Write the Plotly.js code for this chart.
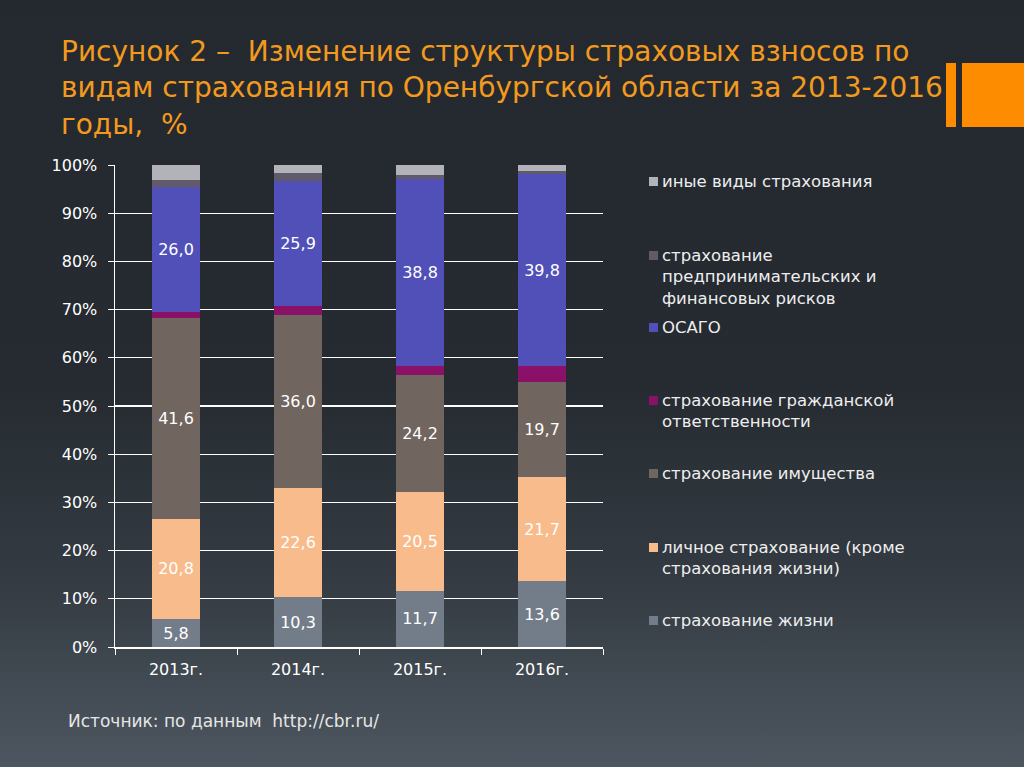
<!DOCTYPE html>
<html><head><meta charset="utf-8">
<script src="https://cdn.plot.ly/plotly-3.0.1.min.js"></script>
<style>
html,body{margin:0;padding:0;width:1024px;height:767px;overflow:hidden;
background:linear-gradient(to bottom,#23292f 0%,#252b31 50%,#333a41 75%,#4d5660 100%);}
#chart{width:1024px;height:767px;}
</style></head><body>
<div id="chart"></div>
<script>
const years = ['2013г.','2014г.','2015г.','2016г.'];
const seriesNames = [
  'страхование жизни',
  'личное страхование (кроме<br>страхования жизни)',
  'страхование имущества',
  'страхование гражданской<br>ответственности',
  'ОСАГО',
  'страхование<br>предпринимательских и<br>финансовых рисков',
  'иные виды страхования'
];
const life       = [5.8, 10.3, 11.7, 13.6];
const personal   = [20.8, 22.6, 20.5, 21.7];
const property   = [41.6, 36.0, 24.2, 19.7];
const liability  = [1.3, 1.8, 1.9, 3.3];
const osago      = [26.0, 25.9, 38.8, 39.8];
const business   = [1.4, 1.7, 0.8, 0.6];
const other      = [3.1, 1.7, 2.1, 1.3];
const seriesValues = [life, personal, property, liability, osago, business, other];
const seriesColors = ['#737d8a','#f8bb8c','#71655f','#8a1068','#5050b8','#605a6b','#b1b3b9'];
const showLabels = [true, true, true, false, true, false, false];

const FONT = 'DejaVu Sans, Liberation Sans, Arial, sans-serif';

// plot area in pixels
const L = 115, R = 603, T = 165, B = 647;
const px2x = p => (p - L) / (R - L);
const py2y = p => (B - p) / (B - T);

const fmt = v => v.toFixed(1).replace('.', ',');

const traces = seriesValues.map((vals, i) => ({
  type: 'bar',
  x: years,
  y: vals,
  name: seriesNames[i],
  marker: {color: seriesColors[i], line: {width: 0}},
  text: showLabels[i] ? vals.map(fmt) : vals.map(() => ''),
  textposition: showLabels[i] ? 'inside' : 'none',
  insidetextanchor: 'middle',
  textfont: {color: '#ffffff', size: 16, family: FONT},
  constraintext: 'none',
  hoverinfo: 'skip',
  showlegend: false
}));

// legend (drawn manually to follow the reference spacing)
const legendOrder = [6, 5, 4, 3, 2, 1, 0];
const legendFirstLineY = [181, 255, 327, 400, 473, 547, 620];
const annotations = [];
const shapes = [];
legendOrder.forEach((si, k) => {
  const yc = legendFirstLineY[k];
  shapes.push({type: 'rect', xref: 'paper', yref: 'paper',
    x0: px2x(649), x1: px2x(658), y0: py2y(yc + 5), y1: py2y(yc - 4),
    fillcolor: seriesColors[si], line: {width: 0}});
  annotations.push({xref: 'paper', yref: 'paper', x: px2x(660), y: py2y(yc - 11),
    xanchor: 'left', yanchor: 'top', align: 'left', showarrow: false,
    text: seriesNames[si],
    font: {color: '#eeeeee', size: 16.5, family: FONT}});
});
// source note
annotations.push({xref: 'paper', yref: 'paper', x: px2x(66), y: py2y(721),
  xanchor: 'left', yanchor: 'middle', showarrow: false,
  text: 'Источник: по данным \u00a0http://cbr.ru/',
  font: {color: '#e6e6e6', size: 17, family: FONT}});
// orange decoration
shapes.push({type: 'rect', xref: 'paper', yref: 'paper',
  x0: px2x(946), x1: px2x(956), y0: py2y(127), y1: py2y(63),
  fillcolor: '#fd8c00', line: {width: 0}});
shapes.push({type: 'rect', xref: 'paper', yref: 'paper',
  x0: px2x(962), x1: px2x(1030), y0: py2y(127), y1: py2y(63),
  fillcolor: '#fd8c00', line: {width: 0}});

const layout = {
  width: 1024, height: 767,
  paper_bgcolor: 'rgba(0,0,0,0)', plot_bgcolor: 'rgba(0,0,0,0)',
  margin: {l: L, r: 1024 - R, t: T, b: 767 - B, pad: 0},
  barmode: 'stack', bargap: 0.6,
  font: {family: FONT, color: '#ffffff', size: 16},
  title: {
    text: 'Рисунок 2 –  Изменение структуры страховых взносов по<br>видам страхования по Оренбургской области за 2013-2016<br>годы,  %',
    x: 61 / 1024, xanchor: 'left', xref: 'container',
    y: 1 - 61 / 767, yanchor: 'top', yref: 'container',
    font: {family: FONT, size: 28, color: '#f39a1e'}
  },
  xaxis: {
    type: 'category', showline: true, linecolor: '#ffffff', linewidth: 1.5,
    ticks: 'outside', tickson: 'boundaries', ticklen: 6, tickcolor: '#ffffff',
    showgrid: false, zeroline: false, ticklabelstandoff: 7,
    tickfont: {size: 16, color: '#ffffff', family: FONT}, fixedrange: true
  },
  yaxis: {
    range: [0, 100], tickvals: [0,10,20,30,40,50,60,70,80,90,100],
    ticktext: ['0%','10%','20%','30%','40%','50%','60%','70%','80%','90%','100%'],
    showline: true, linecolor: '#ffffff', linewidth: 1.5,
    ticks: 'outside', ticklen: 6, tickcolor: '#ffffff',
    showgrid: true, gridcolor: '#ffffff', gridwidth: 1.3, zeroline: false,
    ticklabelstandoff: 7,
    tickfont: {size: 16, color: '#ffffff', family: FONT}, fixedrange: true
  },
  annotations: annotations,
  shapes: shapes,
  showlegend: false
};

Plotly.newPlot('chart', traces, layout, {displayModeBar: false, staticPlot: true});
</script>
</body></html>
